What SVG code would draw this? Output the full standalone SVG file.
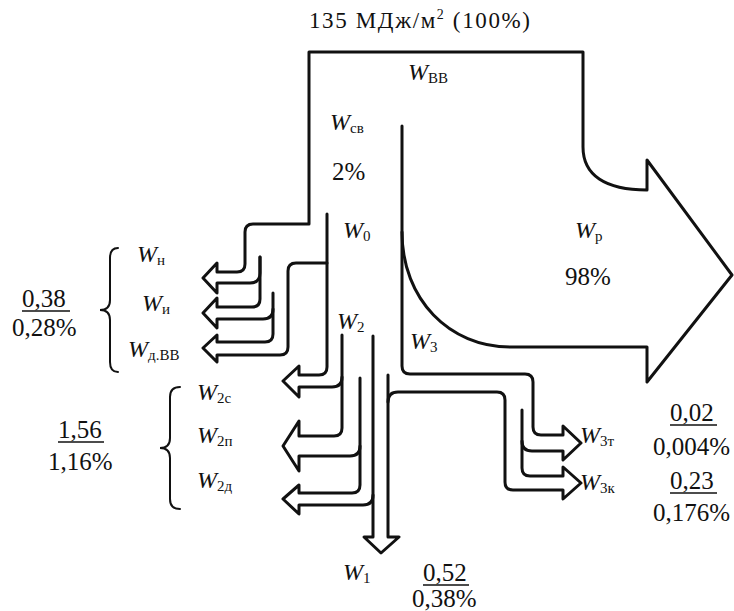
<svg xmlns="http://www.w3.org/2000/svg" width="734" height="611" viewBox="0 0 734 611">
<style>
.ln{fill:none;stroke:#111;stroke-width:3;stroke-linejoin:round;stroke-linecap:round}
.br{fill:none;stroke:#111;stroke-width:2;stroke-linecap:round}
.ul{stroke:#111;stroke-width:1.6}
text{font-family:"Liberation Serif","Times New Roman",serif;fill:#111;font-size:24px}
.w{font-style:italic}
.n{font-size:25px}
.s{font-size:15px;font-style:normal}
.top{font-size:23px}
</style>
<rect width="734" height="611" fill="#fff"/>
<g id="connectors">
  <path class="ln" d="M 260,257 L 260,273 Q 260,283 250,283 L 217,283 L 217,293 L 203,278 L 217,263 L 217,272 L 237,272 Q 245,272 245,264 L 245,232 Q 245,224 253,224 L 309,224 L 309,52 L 583,52 L 583,147 C 583,175 605,190 647,190 L 647,160 L 732,275 L 647,382 L 647,347 L 510,347 C 450,347 402,300 402,232"/>
  <path class="ln" d="M 402,126 L 402,366 Q 402,374 410,374 L 525,374 Q 533,374 533,382 L 533,427 Q 533,435 541,435 L 563,435 L 563,426 L 581,443 L 563,460 L 563,451 L 532,451 Q 522,451 522,441"/>
  <path class="ln" d="M 522,410 L 522,468 Q 522,476 530,476 L 563,476 L 563,467 L 581,483 L 563,499 L 563,490 L 513,490 Q 505,490 505,482 L 505,400 Q 505,392 497,392 L 398,392 Q 388,392 388,402"/>
  <path class="ln" d="M 373,336 L 373,537 L 364,537 L 381,553 L 399,537 L 388,537 L 388,375"/>
  <path class="ln" d="M 260,257 L 260,299 Q 260,307 252,307 L 217,307 L 217,298 L 203,313 L 217,328 L 217,319 L 263,319 Q 273,319 273,309"/>
  <path class="ln" d="M 273,293 L 273,334 Q 273,342 265,342 L 217,342 L 217,335 L 203,348 L 217,362 L 217,355 L 280,355 Q 288,355 288,347 L 288,271 Q 288,263 296,263 L 327,263"/>
  <path class="ln" d="M 327,214 L 327,367 Q 327,375 319,375 L 299,375 L 299,366 L 283,381 L 299,397 L 299,387 L 332,387 Q 342,387 342,377"/>
  <path class="ln" d="M 342,335 L 342,428 Q 342,436 334,436 L 299,436 L 299,421 L 283,446 L 299,471 L 299,456 L 350,456 Q 360,456 360,446"/>
  <path class="ln" d="M 360,378 L 360,485 Q 360,493 352,493 L 299,493 L 299,485 L 283,499 L 299,514 L 299,505 L 363,505 Q 373,505 373,495"/>
</g>
<g id="title"><text class="top" x="309" y="28" textLength="221" lengthAdjust="spacing">135 МДж/м<tspan font-size="14" dy="-9">2</tspan><tspan dy="9"> (100%)</tspan></text></g>
<g id="W_VV"><text class="w" x="408" y="80">W<tspan class="s" dy="3">ВВ</tspan></text></g>
<g id="W_sv"><text class="w" x="330" y="130">W<tspan class="s" dy="3">св</tspan></text><text class="n" x="332" y="180">2%</text></g>
<g id="W_0"><text class="w" x="343" y="238">W<tspan class="s" dy="3">0</tspan></text></g>
<g id="W_p"><text class="w" x="575" y="238">W<tspan class="s" dy="3">р</tspan></text><text class="n" x="565" y="285">98%</text></g>
<g id="W_2"><text class="w" x="337" y="329">W<tspan class="s" dy="3">2</tspan></text></g>
<g id="W_3"><text class="w" x="410" y="349">W<tspan class="s" dy="3">3</tspan></text></g>
<g id="W_n"><text class="w" x="137" y="262">W<tspan class="s" dy="3">н</tspan></text></g>
<g id="W_i"><text class="w" x="142" y="311">W<tspan class="s" dy="3">и</tspan></text></g>
<g id="W_dVV"><text class="w" x="128" y="357">W<tspan class="s" dy="3">д.ВВ</tspan></text></g>
<g id="group1">
  <path class="br" d="M 118,248 Q 110,248 110,258 L 110,300 Q 110,310 100,310 Q 110,310 110,320 L 110,362 Q 110,372 118,372"/>
  <text class="n" x="22" y="307">0,38</text><line class="ul" x1="22" y1="311" x2="70" y2="311"/>
  <text class="n" x="12" y="336">0,28%</text>
</g>
<g id="W_2s"><text class="w" x="197" y="400">W<tspan class="s" dy="3">2с</tspan></text></g>
<g id="W_2p"><text class="w" x="197" y="443">W<tspan class="s" dy="3">2п</tspan></text></g>
<g id="W_2d"><text class="w" x="197" y="488">W<tspan class="s" dy="3">2д</tspan></text></g>
<g id="group2">
  <path class="br" d="M 180,387 Q 170,387 170,397 L 170,438 Q 170,448 160,448 Q 170,448 170,458 L 170,499 Q 170,509 180,509"/>
  <text class="n" x="58" y="438">1,56</text><line class="ul" x1="58" y1="442" x2="104" y2="442"/>
  <text class="n" x="48" y="470">1,16%</text>
</g>
<g id="W_3t"><text class="w" x="580" y="443">W<tspan class="s" dy="3">3т</tspan></text>
  <text class="n" x="670" y="421">0,02</text><line class="ul" x1="670" y1="425" x2="717" y2="425"/>
  <text class="n" x="653" y="455">0,004%</text></g>
<g id="W_3k"><text class="w" x="580" y="490">W<tspan class="s" dy="3">3к</tspan></text>
  <text class="n" x="670" y="489">0,23</text><line class="ul" x1="670" y1="493" x2="717" y2="493"/>
  <text class="n" x="653" y="521">0,176%</text></g>
<g id="W_1"><text class="w" x="343" y="580">W<tspan class="s" dy="3">1</tspan></text>
  <text class="n" x="423" y="581">0,52</text><line class="ul" x1="423" y1="585" x2="469" y2="585"/>
  <text class="n" x="412" y="607">0,38%</text></g>
</svg>
